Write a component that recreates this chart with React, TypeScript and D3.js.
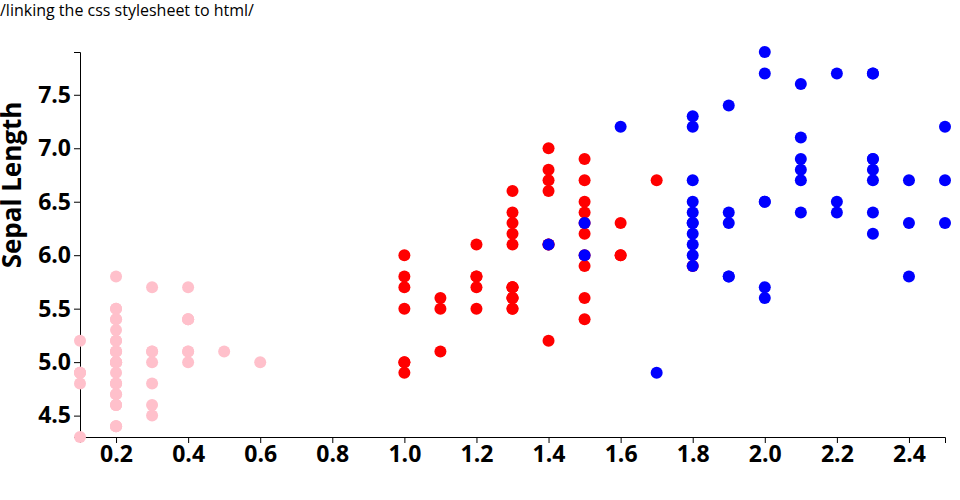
import React, { useEffect, useRef } from "react";
import * as d3 from "d3";

const speciesNames = ["setosa", "versicolor", "virginica"];
const speciesColors = ["pink", "red", "blue"];

const setosaPetalWidth = [0.2,0.2,0.2,0.2,0.2,0.4,0.3,0.2,0.2,0.1,0.2,0.2,0.1,0.1,0.2,0.4,0.4,0.3,0.3,0.3,0.2,0.4,0.2,0.5,0.2,0.2,0.4,0.2,0.2,0.2,0.2,0.4,0.1,0.2,0.1,0.2,0.2,0.1,0.2,0.2,0.3,0.3,0.2,0.6,0.4,0.3,0.2,0.2,0.2,0.2];
const setosaSepalLength = [5.1,4.9,4.7,4.6,5.0,5.4,4.6,5.0,4.4,4.9,5.4,4.8,4.8,4.3,5.8,5.7,5.4,5.1,5.7,5.1,5.4,5.1,4.6,5.1,4.8,5.0,5.0,5.2,5.2,4.7,4.8,5.4,5.2,5.5,4.9,5.0,5.5,4.9,4.4,5.1,5.0,4.5,4.4,5.0,5.1,4.8,5.1,4.6,5.3,5.0];

const versicolorPetalWidth = [1.4,1.5,1.5,1.3,1.5,1.3,1.6,1.0,1.3,1.4,1.0,1.5,1.0,1.4,1.3,1.4,1.5,1.0,1.5,1.1,1.8,1.3,1.5,1.2,1.3,1.4,1.4,1.7,1.5,1.0,1.1,1.0,1.2,1.6,1.5,1.6,1.5,1.3,1.3,1.3,1.2,1.4,1.2,1.0,1.3,1.2,1.3,1.3,1.1,1.3];
const versicolorSepalLength = [7.0,6.4,6.9,5.5,6.5,5.7,6.3,4.9,6.6,5.2,5.0,5.9,6.0,6.1,5.6,6.7,5.6,5.8,6.2,5.6,5.9,6.1,6.3,6.1,6.4,6.6,6.8,6.7,6.0,5.7,5.5,5.5,5.8,6.0,5.4,6.0,6.7,6.3,5.6,5.5,5.5,6.1,5.8,5.0,5.6,5.7,5.7,6.2,5.1,5.7];

const virginicaPetalWidth = [2.5,1.9,2.1,1.8,2.2,2.1,1.7,1.8,1.8,2.5,2.0,1.9,2.1,2.0,2.4,2.3,1.8,2.2,2.3,1.5,2.3,2.0,2.0,1.8,2.1,1.8,1.8,1.8,2.1,1.6,1.9,2.0,2.2,1.5,1.4,2.3,2.4,1.8,1.8,2.1,2.4,2.3,1.9,2.3,2.5,2.3,1.9,2.0,2.3,1.8];
const virginicaSepalLength = [6.3,5.8,7.1,6.3,6.5,7.6,4.9,7.3,6.7,7.2,6.5,6.4,6.8,5.7,5.8,6.4,6.5,7.7,7.7,6.0,6.9,5.6,7.7,6.3,6.7,7.2,6.2,6.1,6.4,7.2,7.4,7.9,6.4,6.3,6.1,7.7,6.3,6.4,6.0,6.9,6.7,6.9,5.8,6.8,6.7,6.7,6.3,6.5,6.2,5.9];

const titleText = "/linking the css stylesheet to html/";
const yLabel = "Sepal Length";

export default function App() {
  const ref = useRef<SVGSVGElement>(null);

  useEffect(() => {
    const svg = d3.select(ref.current);
    svg.selectAll("*").remove();

    const W = 960, H = 500;
    const m = { left: 80, right: 15, top: 52, bottom: 63 };

    const widths = [setosaPetalWidth, versicolorPetalWidth, virginicaPetalWidth];
    const lengths = [setosaSepalLength, versicolorSepalLength, virginicaSepalLength];
    const data: { x: number; y: number; s: number }[] = [];
    widths.forEach((arr, s) => arr.forEach((x, i) => data.push({ x, y: lengths[s][i], s })));

    const x = d3.scaleLinear()
      .domain(d3.extent(data, d => d.x) as [number, number])
      .range([m.left, W - m.right]);
    const y = d3.scaleLinear()
      .domain(d3.extent(data, d => d.y) as [number, number])
      .range([H - m.bottom, m.top]);

    svg.append("text")
      .attr("x", 0).attr("y", 16)
      .attr("font-family", "'Open Sans'")
      .attr("font-size", 16)
      .attr("fill", "#000")
      .text(titleText);

    const gx = svg.append("g")
      .attr("transform", `translate(0,${H - m.bottom})`)
      .call(d3.axisBottom(x));
    const gy = svg.append("g")
      .attr("transform", `translate(${m.left},0)`)
      .call(d3.axisLeft(y));
    [gx, gy].forEach(g => g.selectAll("text")
      .attr("font-family", "'Open Sans'")
      .attr("font-weight", "bold")
      .attr("font-size", 23));

    svg.append("text")
      .attr("transform", `translate(21,185) rotate(-90)`)
      .attr("text-anchor", "middle")
      .attr("font-family", "'Open Sans'")
      .attr("font-weight", "bold")
      .attr("font-size", 26)
      .text(yLabel);

    svg.append("g").selectAll("circle")
      .data(data)
      .join("circle")
      .attr("cx", d => x(d.x))
      .attr("cy", d => y(d.y))
      .attr("r", 6)
      .attr("fill", d => speciesColors[d.s])
      .attr("data-species", d => speciesNames[d.s]);
  }, []);

  return (
    <svg ref={ref} width={960} height={500}
      style={{ position: "absolute", left: 0, top: 0, background: "#fff" }} />
  );
}
